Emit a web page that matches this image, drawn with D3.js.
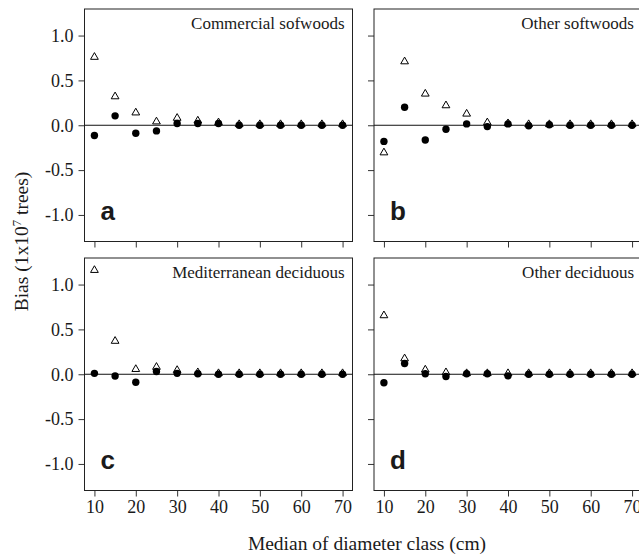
<!DOCTYPE html>
<html>
<head>
<meta charset="utf-8">
<script src="https://cdn.jsdelivr.net/npm/d3@7"></script>
<style>
  body { margin: 0; background: #fff; }
  svg text { font-family: "Liberation Serif", "DejaVu Serif", serif; fill: #1a1a1a; }
</style>
</head>
<body>
<div id="chart"></div>
<script>
// Diameter classes (cm)
const diam = [10, 15, 20, 25, 30, 35, 40, 45, 50, 55, 60, 65, 70];
const xTicks = [10, 20, 30, 40, 50, 60, 70];
const yTicks = [-1.0, -0.5, 0.0, 0.5, 1.0];

const titles = ["Commercial sofwoods", "Other softwoods", "Mediterranean deciduous", "Other deciduous"];
const letters = ["a", "b", "c", "d"];

// open triangles / filled dots, one pair per panel
const triA = [0.76, 0.32, 0.14, 0.04, 0.08, 0.05, 0.03, 0.01, 0.01, 0.01, 0.01, 0.01, 0.01];
const dotA = [-0.115, 0.105, -0.09, -0.063, 0.02, 0.02, 0.02, 0.0, 0.0, 0.0, 0.0, 0.0, 0.0];
const triB = [-0.305, 0.71, 0.35, 0.22, 0.127, 0.03, 0.02, 0.01, 0.01, 0.01, 0.01, 0.01, 0.01];
const dotB = [-0.18, 0.20, -0.165, -0.045, 0.015, -0.015, 0.015, -0.005, 0.005, 0.0, 0.0, 0.0, 0.0];
const triC = [1.16, 0.37, 0.056, 0.08, 0.045, 0.02, 0.01, 0.01, 0.01, 0.01, 0.01, 0.01, 0.01];
const dotC = [0.01, -0.02, -0.09, 0.03, 0.01, 0.005, 0.0, 0.0, 0.0, 0.0, 0.0, 0.0, 0.0];
const triD = [0.655, 0.175, 0.05, 0.02, 0.01, 0.01, 0.01, 0.01, 0.01, 0.01, 0.01, 0.01, 0.01];
const dotD = [-0.095, 0.12, 0.005, -0.025, 0.005, 0.005, -0.018, 0.0, 0.0, 0.0, 0.0, 0.0, 0.0];

const triSeries = [triA, triB, triC, triD];
const dotSeries = [dotA, dotB, dotC, dotD];

// Layout
const width = 639, height = 555;
const colX = [84.5, 374];
const rowY = [9, 258];
const pw = 268, ph = 232.5;

const svg = d3.select("#chart").append("svg")
  .attr("width", width)
  .attr("height", height);

const x = d3.scaleLinear().domain([7.6, 72.4]).range([0, pw]);
const y = d3.scaleLinear().domain([-1.296, 1.296]).range([ph, 0]);

const tri = d3.symbol().type(d3.symbolTriangle).size(26);
const serif = "'Liberation Serif', 'DejaVu Serif', serif";

titles.forEach((title, i) => {
  const col = i % 2, row = Math.floor(i / 2);
  const g = svg.append("g").attr("transform", `translate(${colX[col]},${rowY[row]})`);

  // axes
  const xAxis = d3.axisBottom(x).tickValues(xTicks).tickSize(6).tickPadding(4)
    .tickFormat(row === 1 ? d => d : "");
  const yAxis = d3.axisLeft(y).tickValues(yTicks).tickSize(6).tickPadding(5)
    .tickFormat(col === 0 ? d => d.toFixed(1) : "");

  const gx = g.append("g").attr("transform", `translate(0,${ph})`).call(xAxis);
  const gy = g.append("g").call(yAxis);
  [gx, gy].forEach(a => {
    a.attr("font-family", null).attr("font-size", null);
    a.select(".domain").remove();
    a.selectAll(".tick line").attr("stroke", "#333");
    a.selectAll(".tick text")
      .style("font-family", serif)
      .style("font-size", "18px")
      .style("fill", "#1a1a1a");
  });

  // frame
  g.append("rect")
    .attr("width", pw).attr("height", ph)
    .attr("fill", "none").attr("stroke", "#222").attr("stroke-width", 1);

  // zero line
  g.append("line")
    .attr("x1", 0).attr("x2", pw)
    .attr("y1", y(0)).attr("y2", y(0))
    .attr("stroke", "#111").attr("stroke-width", 1);

  // triangles
  g.selectAll(".tri")
    .data(triSeries[i])
    .join("path")
    .attr("d", tri)
    .attr("transform", (d, j) => `translate(${x(diam[j])},${y(d)})`)
    .attr("fill", "none")
    .attr("stroke", "#000")
    .attr("stroke-width", 1);

  // dots
  g.selectAll(".dot")
    .data(dotSeries[i])
    .join("circle")
    .attr("cx", (d, j) => x(diam[j]))
    .attr("cy", d => y(d))
    .attr("r", 3.7)
    .attr("fill", "#000");

  // panel title
  g.append("text")
    .attr("x", pw - 8)
    .attr("y", 20)
    .attr("text-anchor", "end")
    .style("font-size", "17px")
    .text(title);

  // panel letter
  g.append("text")
    .attr("x", 16)
    .attr("y", 211)
    .style("font-family", "'Liberation Sans', Arial, sans-serif")
    .style("font-weight", "bold")
    .style("font-size", "26px")
    .text(letters[i]);
});

// x axis title
svg.append("text")
  .attr("x", 367)
  .attr("y", 550)
  .attr("text-anchor", "middle")
  .style("font-size", "19.5px")
  .text("Median of diameter class (cm)");

// y axis title
const yt = svg.append("text")
  .attr("transform", "translate(28,241.5) rotate(-90)")
  .attr("text-anchor", "middle")
  .style("font-size", "19.5px");
yt.append("tspan").text("Bias (1x10");
yt.append("tspan").style("font-size", "13px").attr("dy", -7).text("7");
yt.append("tspan").attr("dy", 7).text(" trees)");
</script>
</body>
</html>
